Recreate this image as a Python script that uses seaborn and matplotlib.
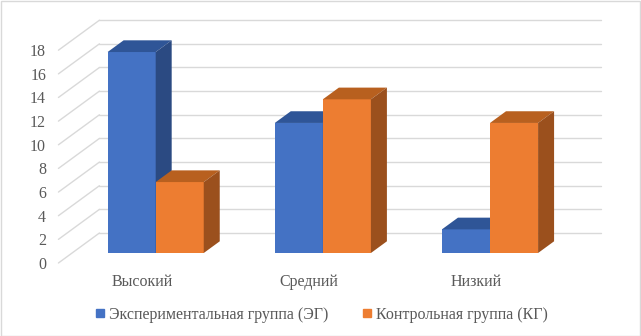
import matplotlib
matplotlib.use("Agg")
import matplotlib.pyplot as plt
import matplotlib.colors as mcolors
from matplotlib.patches import Polygon, Rectangle
from matplotlib.lines import Line2D
from matplotlib.transforms import ScaledTranslation
import pandas as pd
import seaborn as sns

# ---- data ----
levels = ["Высокий", "Средний", "Низкий"]
groups = ["Экспериментальная группа (ЭГ)", "Контрольная группа (КГ)"]
eg_values = [17, 11, 2]
kg_values = [6, 13, 11]
y_ticks = [0, 2, 4, 6, 8, 10, 12, 14, 16, 18]

df = pd.DataFrame({
    "level": levels * 2,
    "group": [groups[0]] * 3 + [groups[1]] * 3,
    "value": eg_values + kg_values,
})

# ---- style ----
front_cols = ["#4472C4", "#ED7D31"]
top_cols = ["#2F5597", "#B8601F"]
side_cols = ["#2B4A82", "#9B501D"]
grid_col = "#D9D9D9"
text_col = "#595959"
font = "Liberation Serif"
fsize = 11.5

sns.set_theme(style="white")
plt.rcParams["font.family"] = [font, "DejaVu Serif"]

W, H = 641, 336
fig = plt.figure(figsize=(W / 100, H / 100), dpi=100)
# axes spans the plane of the bars' front faces
ax_l, ax_r, ax_b, ax_t = 72.1, 573.6, 253.0, 40.2
ax = fig.add_axes([ax_l / W, 1 - ax_b / H, (ax_r - ax_l) / W, (ax_b - ax_t) / H])

sns.barplot(data=df, x="level", y="value", hue="group", order=levels,
            hue_order=groups, palette=front_cols, saturation=1,
            width=0.575, linewidth=0, legend=False, ax=ax)
ax.set_xlim(-0.5, 2.5)
ax.set_ylim(0, 18)
ax.set_xlabel("")
ax.set_ylabel("")
for s in ax.spines.values():
    s.set_visible(False)
ax.set_facecolor("none")

# pixel -> data scale
ux = 3 / (ax_r - ax_l)
uy = 18 / (ax_b - ax_t)
# full depth of the box (front plane -> back wall)
Dx, Dy = 41 * ux, 30 * uy
t_bar = 1 / 3          # depth of bar fronts
bdx, bdy = 16 * ux, 11.7 * uy   # bar depth

# back wall and side wall gridlines
for v in y_ticks:
    ax.plot([-0.5 + (1 - t_bar) * Dx, 2.5 + (1 - t_bar) * Dx],
            [v + (1 - t_bar) * Dy] * 2, color=grid_col, lw=1,
            clip_on=False, zorder=0.5)
    ax.plot([-0.5 - t_bar * Dx, -0.5 + (1 - t_bar) * Dx],
            [v - t_bar * Dy, v + (1 - t_bar) * Dy], color=grid_col, lw=1,
            clip_on=False, zorder=0.5)

# 3D faces on each bar
bars = sorted([p for p in ax.patches if p.get_height() > 0], key=lambda p: p.get_x())
for k, p in enumerate(bars):
    fc = mcolors.to_hex(p.get_facecolor()).upper()
    idx = front_cols.index(fc) if fc in front_cols else 0
    x0, w = p.get_x(), p.get_width()
    y0, h = p.get_y(), p.get_height()
    x1, y1 = x0 + w, y0 + h
    z = 2 + k * 0.01
    p.set_zorder(z)
    top = Polygon([(x0, y1), (x1, y1), (x1 + bdx, y1 + bdy), (x0 + bdx, y1 + bdy)],
                  closed=True, facecolor=top_cols[idx], edgecolor="none",
                  zorder=z, clip_on=False)
    side = Polygon([(x1, y0), (x1 + bdx, y0 + bdy), (x1 + bdx, y1 + bdy), (x1, y1)],
                   closed=True, facecolor=side_cols[idx], edgecolor="none",
                   zorder=z, clip_on=False)
    ax.add_patch(top)
    ax.add_patch(side)

# ticks, labels placed on the front plane
ax.set_yticks(y_ticks)
ax.set_yticklabels([str(v) for v in y_ticks])
ax.tick_params(axis="both", length=0, labelsize=fsize, labelcolor=text_col)
ax.tick_params(axis="y", pad=8.9)
ax.tick_params(axis="x", pad=8.0)
front_off = ScaledTranslation(-t_bar * 41 / 100, -t_bar * 30 / 100, fig.dpi_scale_trans)
for lbl in ax.get_yticklabels() + ax.get_xticklabels():
    lbl.set_transform(lbl.get_transform() + front_off)
    lbl.set_fontfamily([font, "DejaVu Serif"])

# legend
handles = [Line2D([], [], marker="s", linestyle="none", markersize=5.8,
                  markerfacecolor=c, markeredgecolor=c) for c in front_cols]
leg = fig.legend(handles, groups, loc="center", bbox_to_anchor=(322 / W, 1 - 315 / H),
                 ncol=2, frameon=False, handlelength=0.5, handletextpad=0.3,
                 columnspacing=2.2, prop={"family": font, "size": fsize})
for t in leg.get_texts():
    t.set_color(text_col)

# chart border
fig.add_artist(Rectangle((0.5 / W, 0.5 / H), (W - 1.5) / W, (H - 1.5) / H,
                         transform=fig.transFigure, fill=False,
                         edgecolor=grid_col, lw=1))

fig.savefig("out.png", dpi=100)
